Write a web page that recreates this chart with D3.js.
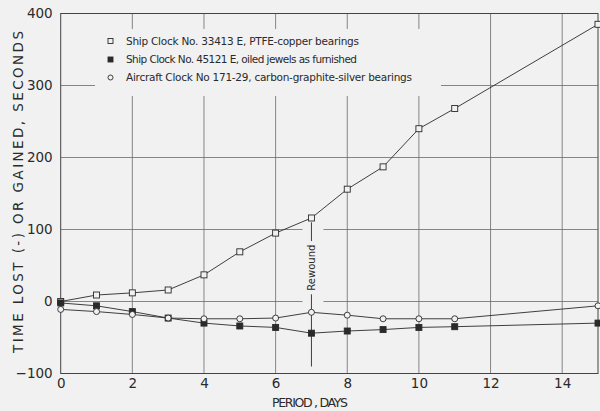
<!DOCTYPE html>
<html><head><meta charset="utf-8">
<script src="https://cdn.jsdelivr.net/npm/d3@7"></script>
<style>
html,body{margin:0;padding:0;background:#f1f1f1;}
svg{display:block;font-family:"DejaVu Sans","Liberation Sans",sans-serif;}
</style></head>
<body>
<svg id="c" width="600" height="411"></svg>
<script>
const days = [0,1,2,3,4,5,6,7,8,9,10,11,15];
const ptfeCopper = [0,9,12,16,37,69,95,116,156,187,240,268,385];
const oiledJewels = [-2,-6,-14,-23,-30,-34,-36,-44,-41,-39,-36,-35,-30];
const aircraftClock = [-11,-14,-18,-23,-24,-24,-23,-15,-19,-24,-24,-24,-6];
const xTicks = [0,2,4,6,8,10,12,14];
const yTicks = [-100,0,100,200,300,400];
const legendLabels = [
  "Ship Clock No. 33413 E, PTFE-copper bearings",
  "Ship Clock No. 45121 E, oiled jewels as furnished",
  "Aircraft Clock No 171-29, carbon-graphite-silver bearings"
];
const xTitle = "PERIOD , DAYS";
const yTitle = "TIME LOST (-) OR GAINED, SECONDS";
const rewoundLabel = "Rewound";
const rewoundDay = 7;

const bg = "#f1f1f1", ink = "#2a2a2a", grid = "#6a6a6a";
const svg = d3.select("#c");
const L = 60.7, R = 598, T = 13.5, B = 373.5;
const x = d3.scaleLinear().domain([0,15]).range([L,R]);
const y = d3.scaleLinear().domain([-100,400]).range([B,T]);

svg.append("rect").attr("width",600).attr("height",411).attr("fill",bg);

// gridlines
const g = svg.append("g");
g.selectAll(".vg").data(xTicks.filter(d=>d>0)).join("line")
  .attr("x1",d=>x(d)).attr("x2",d=>x(d)).attr("y1",T).attr("y2",B)
  .attr("stroke",grid).attr("stroke-width",0.8);
g.selectAll(".hg").data(yTicks.filter(d=>d>-100 && d<400)).join("line")
  .attr("x1",L).attr("x2",R).attr("y1",d=>y(d)).attr("y2",d=>y(d))
  .attr("stroke",grid).attr("stroke-width",0.8);

// legend mask
svg.append("rect").attr("x",95).attr("y",29).attr("width",346).attr("height",67).attr("fill",bg);
// rewound mask
svg.append("rect").attr("x",x(rewoundDay)-9).attr("y",y(108)).attr("width",21).attr("height",y(-4)-y(108)).attr("fill",bg);

// frame
svg.append("rect").attr("x",L).attr("y",T).attr("width",R-L).attr("height",B-T)
  .attr("fill","none").attr("stroke","#444").attr("stroke-width",1);

// axes labels via d3 axes
const xAxis = svg.append("g").attr("transform",`translate(0,${B})`)
  .call(d3.axisBottom(x).tickValues(xTicks).tickSize(0).tickPadding(5).tickFormat(d3.format("d")));
const yAxis = svg.append("g").attr("transform",`translate(${L},0)`)
  .call(d3.axisLeft(y).tickValues(yTicks).tickSize(0).tickPadding(8).tickFormat(d3.format("d")));
[xAxis,yAxis].forEach(a=>{
  a.select(".domain").remove();
  a.selectAll("text").attr("font-size",13.5).attr("fill",ink).attr("font-family","DejaVu Sans, sans-serif");
});

svg.append("text").attr("x",310).attr("y",407).attr("text-anchor","middle")
  .attr("font-size",12.5).attr("fill",ink).attr("textLength",76).text(xTitle);
svg.append("text").attr("transform","translate(23,192) rotate(-90)").attr("text-anchor","middle")
  .attr("font-size",13.5).attr("fill",ink).attr("textLength",322).text(yTitle);

// rewound annotation
const rx = x(rewoundDay);
svg.append("line").attr("x1",rx).attr("x2",rx).attr("y1",y(110)).attr("y2",y(84)).attr("stroke",ink).attr("stroke-width",0.9);
svg.append("line").attr("x1",rx).attr("x2",rx).attr("y1",y(10)).attr("y2",B-7).attr("stroke",ink).attr("stroke-width",0.9);
svg.append("text").attr("transform",`translate(${rx+3.5},${(y(82)+y(12))/2}) rotate(-90)`)
  .attr("text-anchor","middle").attr("font-size",10).attr("fill",ink).text(rewoundLabel);

// series
const series = [
  {vals: ptfeCopper, shape:"sq", fill:bg},
  {vals: oiledJewels, shape:"sq", fill:ink},
  {vals: aircraftClock, shape:"ci", fill:bg}
];
const line = d3.line().x(d=>x(d[0])).y(d=>y(d[1]));
series.forEach(s=>{
  const pts = days.map((d,i)=>[d,s.vals[i]]);
  svg.append("path").attr("d",line(pts)).attr("fill","none").attr("stroke",ink).attr("stroke-width",0.9);
});
series.forEach(s=>{
  const pts = days.map((d,i)=>[d,s.vals[i]]);
  if (s.shape==="sq") {
    svg.selectAll(null).data(pts).join("rect")
      .attr("x",d=>x(d[0])-3).attr("y",d=>y(d[1])-3).attr("width",6).attr("height",6)
      .attr("fill",s.fill).attr("stroke",ink).attr("stroke-width",0.9);
  } else {
    svg.selectAll(null).data(pts).join("circle")
      .attr("cx",d=>x(d[0])).attr("cy",d=>y(d[1])).attr("r",3)
      .attr("fill",s.fill).attr("stroke",ink).attr("stroke-width",0.9);
  }
});

// legend
const legY = [41, 59.5, 77.5];
const legW = [233, 231, 286];
series.forEach((s,i)=>{
  if (s.shape==="sq") {
    svg.append("rect").attr("x",108).attr("y",legY[i]-2.5).attr("width",5).attr("height",5)
      .attr("fill",s.fill).attr("stroke",ink).attr("stroke-width",0.9);
  } else {
    svg.append("circle").attr("cx",110.5).attr("cy",legY[i]).attr("r",2.5)
      .attr("fill",s.fill).attr("stroke",ink).attr("stroke-width",0.9);
  }
  svg.append("text").attr("x",126).attr("y",legY[i]+3.8).attr("font-size",10.5).attr("fill",ink)
    .attr("textLength",legW[i]).text(legendLabels[i]);
});
</script>
</body></html>
